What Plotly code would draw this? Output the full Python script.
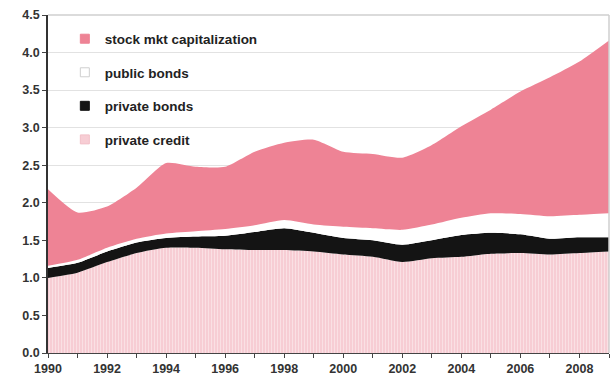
import plotly.graph_objects as go

years = list(range(1990, 2010))
private_credit = [1.00, 1.07, 1.21, 1.33, 1.40, 1.40, 1.38, 1.37, 1.37, 1.35,
                  1.31, 1.28, 1.21, 1.26, 1.28, 1.32, 1.33, 1.31, 1.33, 1.35]
private_bonds = [0.13, 0.13, 0.14, 0.14, 0.13, 0.15, 0.18, 0.24, 0.29, 0.25,
                 0.22, 0.22, 0.23, 0.24, 0.29, 0.28, 0.25, 0.21, 0.21, 0.19]
public_bonds = [0.03, 0.04, 0.05, 0.05, 0.06, 0.07, 0.09, 0.09, 0.11, 0.11,
                0.15, 0.16, 0.20, 0.21, 0.23, 0.26, 0.27, 0.30, 0.30, 0.32]
stock_mkt = [1.02, 0.63, 0.55, 0.68, 0.94, 0.86, 0.83, 0.98, 1.03, 1.13,
             1.00, 0.99, 0.96, 1.06, 1.22, 1.38, 1.63, 1.85, 2.04, 2.30]

y_ticks = [0, 0.5, 1.0, 1.5, 2.0, 2.5, 3.0, 3.5, 4.0, 4.5]
x_ticks = list(range(1990, 2009, 2))

fig = go.Figure()

# (name, values, fill colour, legend marker outline, pattern)
layers = [
    ("private credit", private_credit, "#F7CDD4", "#F2C0C8",
     dict(shape="|", bgcolor="#F7CDD4", fgcolor="#FFFFFF", size=3, solidity=0.25)),
    ("private bonds", private_bonds, "#141414", "#141414", None),
    ("public bonds", public_bonds, "#FFFFFF", "#CFCFCF", None),
    ("stock mkt capitalization", stock_mkt, "#EE8395", "#EE8395", None),
]

n = len(layers)
for i, (name, vals, color, outline, pattern) in enumerate(layers):
    kw = dict(fillpattern=pattern) if pattern else {}
    fig.add_trace(go.Scatter(
        x=years, y=vals, name=name, stackgroup="one", mode="lines",
        line=dict(width=0, shape="spline", smoothing=0.6, color=color),
        fillcolor=color, showlegend=False, **kw,
    ))
    # square legend key for this layer
    fig.add_trace(go.Scatter(
        x=[None], y=[None], name=name, mode="markers",
        marker=dict(symbol="square", size=9, color=color,
                    line=dict(color=outline, width=1)),
        legendgroup=f"g{i}", legendrank=n - i, showlegend=True,
    ))

tick_font = dict(size=12.5, weight="bold", color="#333333")

fig.update_layout(
    width=613, height=383,
    margin=dict(l=48, r=4, t=15, b=30),
    paper_bgcolor="white", plot_bgcolor="white",
    font=dict(family="Liberation Sans, Arial, sans-serif", size=12, color="#333333"),
    showlegend=True,
    legend=dict(
        x=0.03, y=0.975, xanchor="left", yanchor="top",
        bgcolor="rgba(0,0,0,0)", traceorder="grouped",
        tracegroupgap=13,
        font=dict(size=13.5, color="#222222", family="Liberation Sans, Arial, sans-serif",
                  weight="bold"),
        itemwidth=30,
    ),
    xaxis=dict(
        range=[1990, 2009], tickvals=x_ticks, ticktext=[str(v) for v in x_ticks],
        showgrid=False, zeroline=False, showline=True, linecolor="#444444",
        linewidth=1, ticks="outside", ticklen=4, tickcolor="#444444",
        tickfont=tick_font,
        minor=dict(dtick=1, ticks="outside", ticklen=4, tickcolor="#444444"),
        mirror=False,
    ),
    yaxis=dict(
        range=[0, 4.5], tickvals=y_ticks, ticktext=[f"{v:.1f}" for v in y_ticks],
        showgrid=True, gridcolor="#E2E2E2", gridwidth=1, zeroline=False,
        showline=True, linecolor="#333333", linewidth=1.5,
        ticks="outside", ticklen=4, tickcolor="#444444",
        tickfont=tick_font,
    ),
)

# light frame along the top and right of the plotting area
fig.add_shape(type="line", xref="paper", yref="paper", x0=0, x1=1, y0=1, y1=1,
              line=dict(color="#CFCFCF", width=1.5))
fig.add_shape(type="line", xref="paper", yref="paper", x0=1, x1=1, y0=0, y1=1,
              line=dict(color="#CFCFCF", width=1.5))

fig.write_html("out.html")
